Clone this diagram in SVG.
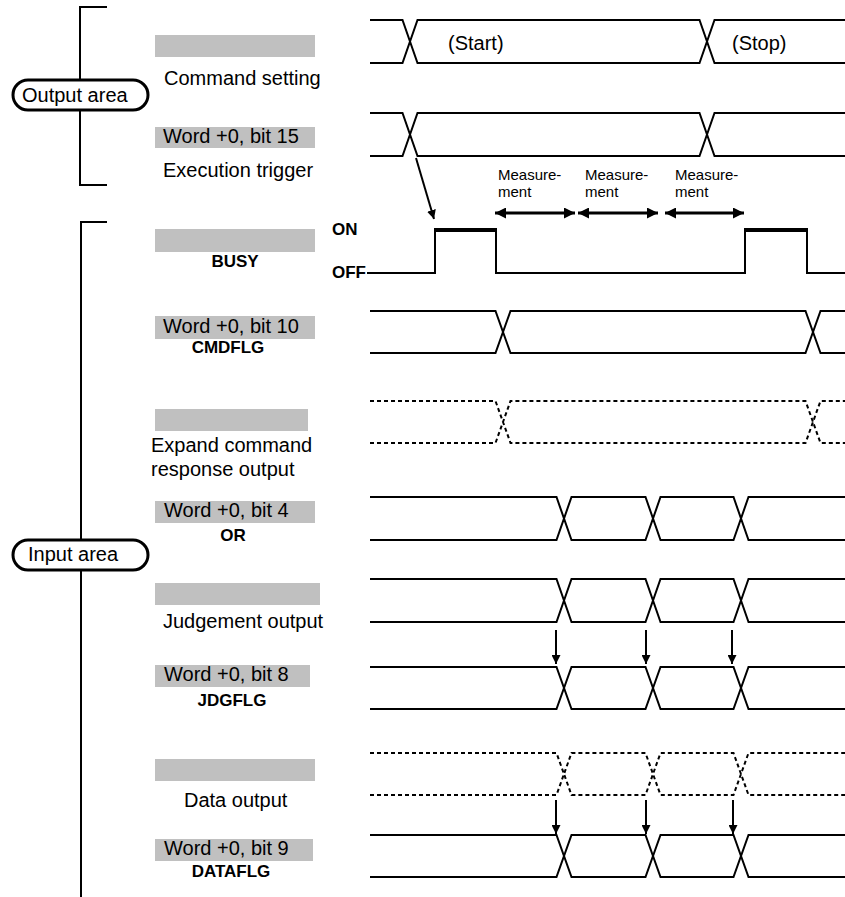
<svg xmlns="http://www.w3.org/2000/svg" width="845" height="897" viewBox="0 0 845 897">
<style>
.t{font-family:"Liberation Sans",Arial,Helvetica,sans-serif;font-size:20px;fill:#000}
.b{font-weight:bold;font-size:17px}
.m{font-size:15px}
.g{fill:#c0c0c0}
.w{fill:none;stroke:#000;stroke-width:2}
.d{stroke-dasharray:4 3}
.br{fill:none;stroke:#000;stroke-width:2}
.pill{fill:#fff;stroke:#000;stroke-width:3}
.ar{fill:none;stroke:#000;stroke-width:2}
.ma{fill:none;stroke:#000;stroke-width:3}
</style>
<defs>
<marker id="ah" viewBox="0 0 10 10" refX="10" refY="5" markerUnits="userSpaceOnUse" markerWidth="9" markerHeight="9" orient="auto-start-reverse"><path d="M0,0 L10,5 L0,10 z" fill="#000"/></marker>
<marker id="ahb" viewBox="0 0 10 10" refX="10" refY="5" markerUnits="userSpaceOnUse" markerWidth="12" markerHeight="11" orient="auto-start-reverse"><path d="M0,0 L10,5 L0,10 z" fill="#000"/></marker>
</defs>

<g id="output-area">
<path class="br" d="M107,7 H80 V185 H107"/>
<rect class="pill" x="13" y="80" width="135" height="30" rx="15"/>
<text class="t" x="22" y="102">Output area</text>
</g>

<g id="input-area">
<path class="br" d="M107,222 H81 V897"/>
<rect class="pill" x="13" y="540" width="135" height="30" rx="15"/>
<text class="t" x="28" y="561">Input area</text>
</g>

<g id="command-setting">
<rect class="g" x="155" y="35" width="160" height="22"/>
<text class="t" x="164" y="85">Command setting</text>
<path class="w" d="M370,20 H402.5 L417.5,63 H699.5 L714.5,20 H845 M370,63 H402.5 L417.5,20 H699.5 L714.5,63 H845"/>
<text class="t" x="448" y="50">(Start)</text>
<text class="t" x="732" y="50">(Stop)</text>
</g>

<g id="execution-trigger">
<rect class="g" x="155" y="127" width="160" height="21"/>
<text class="t" x="163" y="143">Word +0, bit 15</text>
<text class="t" x="163" y="177">Execution trigger</text>
<path class="w" d="M370,113 H402.5 L417.5,156 H699.5 L714.5,113 H845 M370,156 H402.5 L417.5,113 H699.5 L714.5,156 H845"/>
</g>

<g id="measurement-labels">
<text class="t m" x="498" y="180">Measure-</text>
<text class="t m" x="498" y="197">ment</text>
<text class="t m" x="585" y="180">Measure-</text>
<text class="t m" x="585" y="197">ment</text>
<text class="t m" x="675" y="180">Measure-</text>
<text class="t m" x="675" y="197">ment</text>
</g>

<g id="busy">
<rect class="g" x="155" y="229" width="160" height="23"/>
<text class="t b" x="235" y="267" text-anchor="middle">BUSY</text>
<text class="t b" x="332" y="235">ON</text>
<text class="t b" x="332" y="278">OFF</text>
<path class="w" d="M367,273 H435 V229 H496 V273 H745 V229 H807 V273 H845"/>
<path fill="none" stroke="#000" stroke-width="4" d="M435,230 H496 M745,230 H807"/>
</g>

<g id="cmdflg">
<rect class="g" x="155" y="316" width="160" height="23"/>
<text class="t" x="163" y="333">Word +0, bit 10</text>
<text class="t b" x="228" y="353" text-anchor="middle">CMDFLG</text>
<path class="w" d="M370,311 H495.5 L510.5,353 H805.5 L820.5,311 H845 M370,353 H495.5 L510.5,311 H805.5 L820.5,353 H845"/>
</g>

<g id="expand-command">
<rect class="g" x="155" y="409" width="153" height="22"/>
<text class="t" x="151" y="452">Expand command</text>
<text class="t" x="151" y="476">response output</text>
<path class="w d" d="M370,401 H495.5 L510.5,443 H805.5 L820.5,401 H845 M370,443 H495.5 L510.5,401 H805.5 L820.5,443 H845"/>
</g>

<g id="or">
<rect class="g" x="155" y="501" width="160" height="22"/>
<text class="t" x="164" y="517">Word +0, bit 4</text>
<text class="t b" x="233" y="541" text-anchor="middle">OR</text>
<path class="w" d="M370,497 H556.5 L571.5,540 H645.5 L660.5,497 H733.5 L748.5,540 H845 M370,540 H556.5 L571.5,497 H645.5 L660.5,540 H733.5 L748.5,497 H845"/>
</g>

<g id="judgement-output">
<rect class="g" x="155" y="583" width="165" height="22"/>
<text class="t" x="163" y="628">Judgement output</text>
<path class="w" d="M370,579 H556.5 L571.5,622 H645.5 L660.5,579 H733.5 L748.5,622 H845 M370,622 H556.5 L571.5,579 H645.5 L660.5,622 H733.5 L748.5,579 H845"/>
</g>

<g id="jdgflg">
<rect class="g" x="155" y="665" width="155" height="22"/>
<text class="t" x="164" y="681">Word +0, bit 8</text>
<text class="t b" x="232" y="706" text-anchor="middle">JDGFLG</text>
<path class="w" d="M370,667 H556.5 L571.5,709 H645.5 L660.5,667 H733.5 L748.5,709 H845 M370,709 H556.5 L571.5,667 H645.5 L660.5,709 H733.5 L748.5,667 H845"/>
</g>

<g id="data-output">
<rect class="g" x="155" y="759" width="160" height="22"/>
<text class="t" x="184" y="807">Data output</text>
<path class="w d" d="M370,753 H556.5 L571.5,795 H645.5 L660.5,753 H733.5 L748.5,795 H845 M370,795 H556.5 L571.5,753 H645.5 L660.5,795 H733.5 L748.5,753 H845"/>
</g>

<g id="dataflg">
<rect class="g" x="155" y="839" width="158" height="22"/>
<text class="t" x="164" y="855">Word +0, bit 9</text>
<text class="t b" x="231" y="877" text-anchor="middle">DATAFLG</text>
<path class="w" d="M370,835 H556.5 L571.5,877 H645.5 L660.5,835 H733.5 L748.5,877 H845 M370,877 H556.5 L571.5,835 H645.5 L660.5,877 H733.5 L748.5,835 H845"/>
</g>

<g id="connectors">
<line class="ar" x1="416" y1="158" x2="434" y2="219" marker-end="url(#ah)"/>
<line class="ma" x1="495" y1="213" x2="575" y2="213" marker-start="url(#ahb)" marker-end="url(#ahb)"/>
<line class="ma" x1="578" y1="213" x2="658" y2="213" marker-start="url(#ahb)" marker-end="url(#ahb)"/>
<line class="ma" x1="665" y1="213" x2="744" y2="213" marker-start="url(#ahb)" marker-end="url(#ahb)"/>
<line class="ar" x1="556" y1="630" x2="556" y2="664" marker-end="url(#ah)"/>
<line class="ar" x1="646" y1="630" x2="646" y2="664" marker-end="url(#ah)"/>
<line class="ar" x1="732" y1="630" x2="732" y2="664" marker-end="url(#ah)"/>
<line class="ar" x1="556" y1="800" x2="556" y2="834" marker-end="url(#ah)"/>
<line class="ar" x1="646" y1="800" x2="646" y2="834" marker-end="url(#ah)"/>
<line class="ar" x1="733" y1="800" x2="733" y2="834" marker-end="url(#ah)"/>
</g>
</svg>
